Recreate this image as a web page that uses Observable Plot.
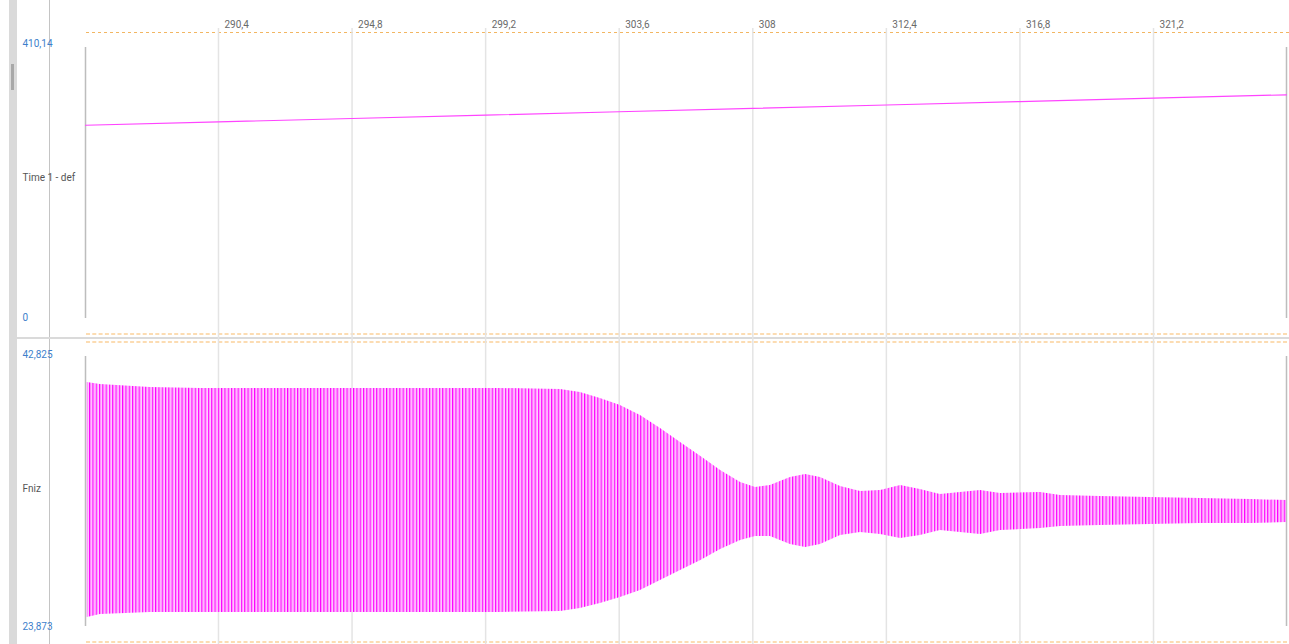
<!DOCTYPE html>
<html><head><meta charset="utf-8">
<script src="https://cdn.jsdelivr.net/npm/d3@7"></script>
<script src="https://cdn.jsdelivr.net/npm/@observablehq/plot@0.6"></script>
<style>
html,body{margin:0;padding:0;background:#fff;width:1289px;height:644px;overflow:hidden;font-family:Roboto,"Liberation Sans",sans-serif;}
#wrap{position:relative;width:1289px;height:644px;}
#wrap > *{position:absolute;}
</style></head><body><div id="wrap"></div>
<script>
// ---- data ----
const xDomain = [286.02, 325.58];
const tickValues = [290.4, 294.8, 299.2, 303.6, 308, 312.4, 316.8, 321.2];
const panelLabels = ["Time 1 - def", "Fniz"];

const timeRange = [0, 410.14];
const timeT = [286.02, 290.4, 294.8, 299.2, 303.6, 308, 312.4, 316.8, 321.2, 325.58];
const timeV = [289.3, 294.3, 299.4, 304.4, 309.5, 314.6, 319.6, 324.7, 329.8, 334.8];

const fnizRange = [23.873, 42.825];
const fnizT  = [286.08, 286.51, 288.16, 289.81, 293.10, 296.40, 299.69, 301.67, 302.32, 302.98, 303.64, 304.30, 304.96, 305.62, 306.29, 306.94, 307.60, 308.09, 308.58, 309.24, 309.74, 310.23, 310.89, 311.55, 312.21, 312.87, 313.52, 314.18, 314.84, 315.50, 316.16, 317.48, 318.14, 319.45, 321.10, 322.75, 324.40, 325.58];
const fnizHi = [40.87, 40.74, 40.53, 40.46, 40.46, 40.46, 40.46, 40.38, 40.18, 39.76, 39.27, 38.58, 37.67, 36.69, 35.72, 34.74, 33.91, 33.56, 33.70, 34.26, 34.46, 34.26, 33.63, 33.28, 33.35, 33.70, 33.42, 33.07, 33.21, 33.35, 33.14, 33.21, 33.00, 32.93, 32.86, 32.79, 32.72, 32.65];
const fnizLo = [24.50, 24.71, 24.85, 24.85, 24.85, 24.85, 24.85, 24.92, 25.13, 25.48, 25.89, 26.38, 27.08, 27.78, 28.47, 29.24, 29.87, 30.14, 30.14, 29.59, 29.38, 29.59, 30.21, 30.42, 30.28, 30.01, 30.21, 30.56, 30.42, 30.28, 30.56, 30.70, 30.84, 30.91, 30.98, 31.05, 31.05, 31.12];

const fmt = d => String(d).replace(".", ",");
const timeData = timeT.map((t, i) => ({t, v: timeV[i]}));
const fnizData = fnizT.map((t, i) => ({t, hi: fnizHi[i], lo: fnizLo[i]}));

const wrap = document.getElementById("wrap");
const ns = "http://www.w3.org/2000/svg";

// ---- decorations (background chrome) ----
const deco = d3.create("svg").attr("width", 1289).attr("height", 644).style("left", "0px").style("top", "0px");
deco.append("rect").attr("x", 9).attr("y", 0).attr("width", 8).attr("height", 644).attr("fill", "#dadada");
deco.append("rect").attr("x", 11).attr("y", 64).attr("width", 3).attr("height", 26).attr("fill", "#a8a8a8");
deco.append("rect").attr("x", 49).attr("y", 0).attr("width", 1).attr("height", 644).attr("fill", "#c4c4c4");
deco.append("rect").attr("x", 17).attr("y", 337).attr("width", 1272).attr("height", 2).attr("fill", "#dadada");
deco.append("line").attr("x1", 86).attr("x2", 1289).attr("y1", 32.5).attr("y2", 32.5)
  .attr("stroke", "#f2b662").attr("stroke-width", 1).attr("stroke-dasharray", "3,3");
for (const y of [334, 342, 642]) {
  deco.append("line").attr("x1", 86).attr("x2", 1289).attr("y1", y).attr("y2", y)
    .attr("stroke", "#fcdcb2").attr("stroke-width", 2).attr("stroke-dasharray", "4,2.3");
}
wrap.append(deco.node());

const baseStyle = {background: "transparent", fontFamily: 'Roboto,"Liberation Sans",sans-serif', fontSize: "10px", overflow: "visible"};
const blue = "#3d7fcb";

// ---- top panel ----
const topPlot = Plot.plot({
  width: 1289, height: 337,
  marginLeft: 85, marginRight: 3, marginTop: 44, marginBottom: 19,
  x: {domain: xDomain, axis: null},
  y: {domain: timeRange, axis: null},
  style: baseStyle,
  marks: [
    Plot.ruleX(tickValues, {stroke: "#e4e4e4", strokeWidth: 1.5, insetTop: -16, insetBottom: -19}),
    Plot.text(tickValues, {x: d => d, text: fmt, frameAnchor: "top", dy: -24, dx: 6, textAnchor: "start", fill: "#6a6a6a"}),
    Plot.ruleX(xDomain, {stroke: "#bdbdbd", strokeWidth: 1.5, insetTop: 3}),
    Plot.text(timeRange, {y: d => d, text: fmt, frameAnchor: "left", dx: -63, dy: -1, textAnchor: "start", fill: blue}),
    Plot.text([panelLabels[0]], {text: d => d, frameAnchor: "left", dx: -63, dy: -4, textAnchor: "start", fill: "#555"}),
    Plot.lineY(timeData, {x: "t", y: "v", stroke: "#ff44ff", strokeWidth: 1.2})
  ]
});
topPlot.style.left = "0px"; topPlot.style.top = "0px";
wrap.append(topPlot);

// ---- bottom panel ----
const botPlot = Plot.plot({
  width: 1289, height: 307,
  marginLeft: 85, marginRight: 3, marginTop: 17, marginBottom: 18,
  x: {domain: xDomain, axis: null},
  y: {domain: fnizRange, axis: null},
  style: baseStyle,
  marks: [
    Plot.ruleX(tickValues, {stroke: "#e4e4e4", strokeWidth: 1.5, insetTop: -17, insetBottom: -18}),
    Plot.ruleX(xDomain, {stroke: "#bdbdbd", strokeWidth: 1.5, insetTop: 2}),
    Plot.text(fnizRange, {y: d => d, text: fmt, frameAnchor: "left", dx: -63, textAnchor: "start", fill: blue}),
    Plot.text([panelLabels[1]], {text: d => d, frameAnchor: "left", dx: -63, dy: -2, textAnchor: "start", fill: "#555"}),
    Plot.areaY(fnizData, {x: "t", y1: "lo", y2: "hi", fill: "url(#osc)"})
  ]
});
// stripe pattern to mimic the dense oscillation rendering
const defs = document.createElementNS(ns, "defs");
const pat = document.createElementNS(ns, "pattern");
pat.setAttribute("id", "osc");
pat.setAttribute("patternUnits", "userSpaceOnUse");
pat.setAttribute("width", "3.3");
pat.setAttribute("height", "6");
for (const [x, w, c] of [[0, 1.2, "#ff00ff"], [1.2, 1.0, "#ff70ff"], [2.2, 1.1, "#ffd0ff"]]) {
  const r = document.createElementNS(ns, "rect");
  r.setAttribute("x", x); r.setAttribute("y", 0); r.setAttribute("width", w); r.setAttribute("height", 6); r.setAttribute("fill", c);
  pat.append(r);
}
defs.append(pat);
botPlot.prepend(defs);
botPlot.style.left = "0px"; botPlot.style.top = "337px";
wrap.append(botPlot);
</script>
</body></html>
